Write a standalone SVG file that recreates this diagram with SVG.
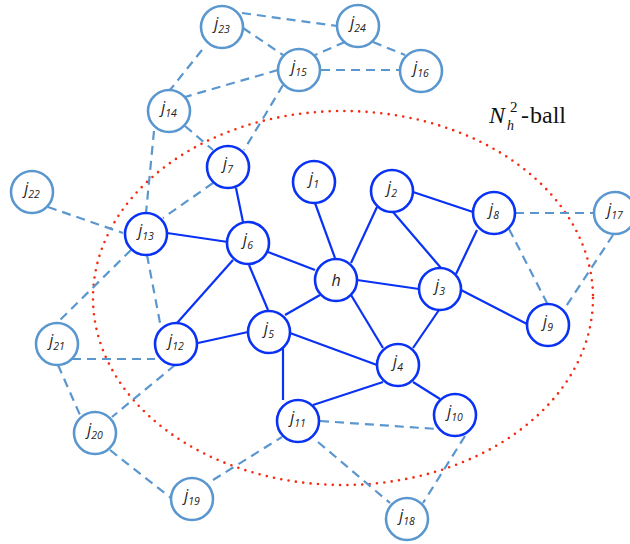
<svg xmlns="http://www.w3.org/2000/svg" width="630" height="544" viewBox="0 0 630 544">
<style>
.s{stroke:#0A32F5;stroke-width:2.2;fill:none}
.d{stroke:#5B97CF;stroke-width:2.2;fill:none;stroke-dasharray:9 6}
.ni circle{fill:#fff;stroke:#0A32F5;stroke-width:2.6}
.no circle{fill:#fff;stroke:#5B97CF;stroke-width:2.6}
.lb{font-family:"Open Sans","Liberation Sans",sans-serif;font-style:italic;font-size:16px;fill:#222;text-anchor:middle}
.sb{font-size:10.5px}
</style>
<rect width="630" height="544" fill="#fff"/>
<ellipse cx="343" cy="298" rx="250" ry="187" fill="none" stroke="#F52A10" stroke-width="2.6" stroke-linecap="round" stroke-dasharray="0 7.4"/>
<g id="connectors">
<line class="d" x1="242" y1="13" x2="337" y2="26"/>
<line class="d" x1="243" y1="28" x2="283" y2="55"/>
<line class="d" x1="202" y1="50" x2="170" y2="90"/>
<line class="d" x1="345" y1="42" x2="315" y2="55"/>
<line class="d" x1="373" y1="42" x2="405" y2="55"/>
<line class="d" x1="321" y1="70" x2="400" y2="70"/>
<line class="d" x1="278" y1="70" x2="185" y2="97"/>
<line class="d" x1="283" y1="85" x2="244" y2="150"/>
<line class="d" x1="185" y1="126" x2="213" y2="150"/>
<line class="d" x1="154" y1="131" x2="146" y2="213"/>
<line class="d" x1="213" y1="183" x2="163" y2="218"/>
<line class="d" x1="48" y1="207" x2="123" y2="233"/>
<line class="d" x1="131" y1="250" x2="58" y2="322"/>
<line class="d" x1="147" y1="255" x2="161" y2="328"/>
<line class="d" x1="72" y1="359" x2="155" y2="359"/>
<line class="d" x1="58" y1="365" x2="80" y2="415"/>
<line class="d" x1="175" y1="365" x2="112" y2="417"/>
<line class="d" x1="110" y1="450" x2="171" y2="498"/>
<line class="d" x1="213" y1="480" x2="282" y2="437"/>
<line class="d" x1="320" y1="421" x2="437" y2="429"/>
<line class="d" x1="318" y1="442" x2="390" y2="503"/>
<line class="d" x1="465" y1="436" x2="423" y2="503"/>
<line class="d" x1="515" y1="213" x2="594" y2="213"/>
<line class="d" x1="509" y1="229" x2="547" y2="303"/>
<line class="d" x1="613" y1="235" x2="565" y2="308"/>
<line class="s" x1="236" y1="188" x2="243" y2="222"/>
<line class="s" x1="167" y1="233" x2="228" y2="242"/>
<line class="s" x1="268" y1="252" x2="315" y2="270"/>
<line class="s" x1="233" y1="260" x2="177" y2="323"/>
<line class="s" x1="249" y1="265" x2="268" y2="310"/>
<line class="s" x1="315" y1="203" x2="335" y2="258"/>
<line class="s" x1="377" y1="207" x2="351" y2="263"/>
<line class="s" x1="413" y1="192" x2="473" y2="212"/>
<line class="s" x1="393" y1="212" x2="441" y2="268"/>
<line class="s" x1="477" y1="230" x2="456" y2="274"/>
<line class="s" x1="357" y1="280" x2="419" y2="289"/>
<line class="s" x1="320" y1="295" x2="285" y2="315"/>
<line class="s" x1="351" y1="295" x2="383" y2="348"/>
<line class="s" x1="461" y1="290" x2="527" y2="324"/>
<line class="s" x1="439" y1="310" x2="413" y2="348"/>
<line class="s" x1="198" y1="343" x2="248" y2="332"/>
<line class="s" x1="290" y1="333" x2="377" y2="365"/>
<line class="s" x1="283" y1="348" x2="283" y2="400"/>
<line class="s" x1="313" y1="405" x2="383" y2="382"/>
<line class="s" x1="413" y1="382" x2="440" y2="399"/>
</g>
<g id="j23" class="no"><circle cx="222" cy="27" r="21"/><text class="lb" x="222" y="29">j<tspan class="sb" dy="4">23</tspan></text></g>
<g id="j24" class="no"><circle cx="358" cy="26" r="21"/><text class="lb" x="358" y="28">j<tspan class="sb" dy="4">24</tspan></text></g>
<g id="j15" class="no"><circle cx="299" cy="70" r="21"/><text class="lb" x="299" y="72">j<tspan class="sb" dy="4">15</tspan></text></g>
<g id="j16" class="no"><circle cx="421" cy="71" r="21"/><text class="lb" x="421" y="73">j<tspan class="sb" dy="4">16</tspan></text></g>
<g id="j14" class="no"><circle cx="169" cy="111" r="21"/><text class="lb" x="169" y="113">j<tspan class="sb" dy="4">14</tspan></text></g>
<g id="j22" class="no"><circle cx="32" cy="192" r="21"/><text class="lb" x="32" y="194">j<tspan class="sb" dy="4">22</tspan></text></g>
<g id="j17" class="no"><circle cx="615" cy="213" r="21"/><text class="lb" x="615" y="215">j<tspan class="sb" dy="4">17</tspan></text></g>
<g id="j21" class="no"><circle cx="57" cy="344" r="21"/><text class="lb" x="57" y="346">j<tspan class="sb" dy="4">21</tspan></text></g>
<g id="j20" class="no"><circle cx="95" cy="433" r="21"/><text class="lb" x="95" y="435">j<tspan class="sb" dy="4">20</tspan></text></g>
<g id="j19" class="no"><circle cx="192" cy="499" r="21"/><text class="lb" x="192" y="501">j<tspan class="sb" dy="4">19</tspan></text></g>
<g id="j18" class="no"><circle cx="407" cy="519" r="21"/><text class="lb" x="407" y="521">j<tspan class="sb" dy="4">18</tspan></text></g>
<g id="j7" class="ni"><circle cx="228" cy="167" r="21"/><text class="lb" x="228" y="169">j<tspan class="sb" dy="4">7</tspan></text></g>
<g id="j13" class="ni"><circle cx="146" cy="234" r="21"/><text class="lb" x="146" y="236">j<tspan class="sb" dy="4">13</tspan></text></g>
<g id="j6" class="ni"><circle cx="248" cy="243" r="21"/><text class="lb" x="248" y="245">j<tspan class="sb" dy="4">6</tspan></text></g>
<g id="j1" class="ni"><circle cx="314" cy="182" r="21"/><text class="lb" x="314" y="184">j<tspan class="sb" dy="4">1</tspan></text></g>
<g id="j2" class="ni"><circle cx="392" cy="191" r="21"/><text class="lb" x="392" y="193">j<tspan class="sb" dy="4">2</tspan></text></g>
<g id="j8" class="ni"><circle cx="494" cy="213" r="21"/><text class="lb" x="494" y="215">j<tspan class="sb" dy="4">8</tspan></text></g>
<g id="h" class="ni"><circle cx="336" cy="280" r="21"/><text class="lb" x="336" y="286">h</text></g>
<g id="j3" class="ni"><circle cx="440" cy="289" r="21"/><text class="lb" x="440" y="291">j<tspan class="sb" dy="4">3</tspan></text></g>
<g id="j9" class="ni"><circle cx="548" cy="325" r="21"/><text class="lb" x="548" y="327">j<tspan class="sb" dy="4">9</tspan></text></g>
<g id="j12" class="ni"><circle cx="176" cy="344" r="21"/><text class="lb" x="176" y="346">j<tspan class="sb" dy="4">12</tspan></text></g>
<g id="j5" class="ni"><circle cx="269" cy="332" r="21"/><text class="lb" x="269" y="334">j<tspan class="sb" dy="4">5</tspan></text></g>
<g id="j4" class="ni"><circle cx="398" cy="365" r="21"/><text class="lb" x="398" y="367">j<tspan class="sb" dy="4">4</tspan></text></g>
<g id="j11" class="ni"><circle cx="298" cy="421" r="21"/><text class="lb" x="298" y="423">j<tspan class="sb" dy="4">11</tspan></text></g>
<g id="j10" class="ni"><circle cx="455" cy="415" r="21"/><text class="lb" x="455" y="417">j<tspan class="sb" dy="4">10</tspan></text></g>
<g id="ball-label" font-family="'Liberation Serif',serif" fill="#111">
<text x="489" y="123" font-size="24" font-style="italic">N</text>
<text x="507" y="130" font-size="14" font-style="italic">h</text>
<text x="510" y="112" font-size="15">2</text>
<text x="521" y="123" font-size="24">-</text>
<text x="530" y="123" font-size="24">ball</text>
</g>
</svg>
